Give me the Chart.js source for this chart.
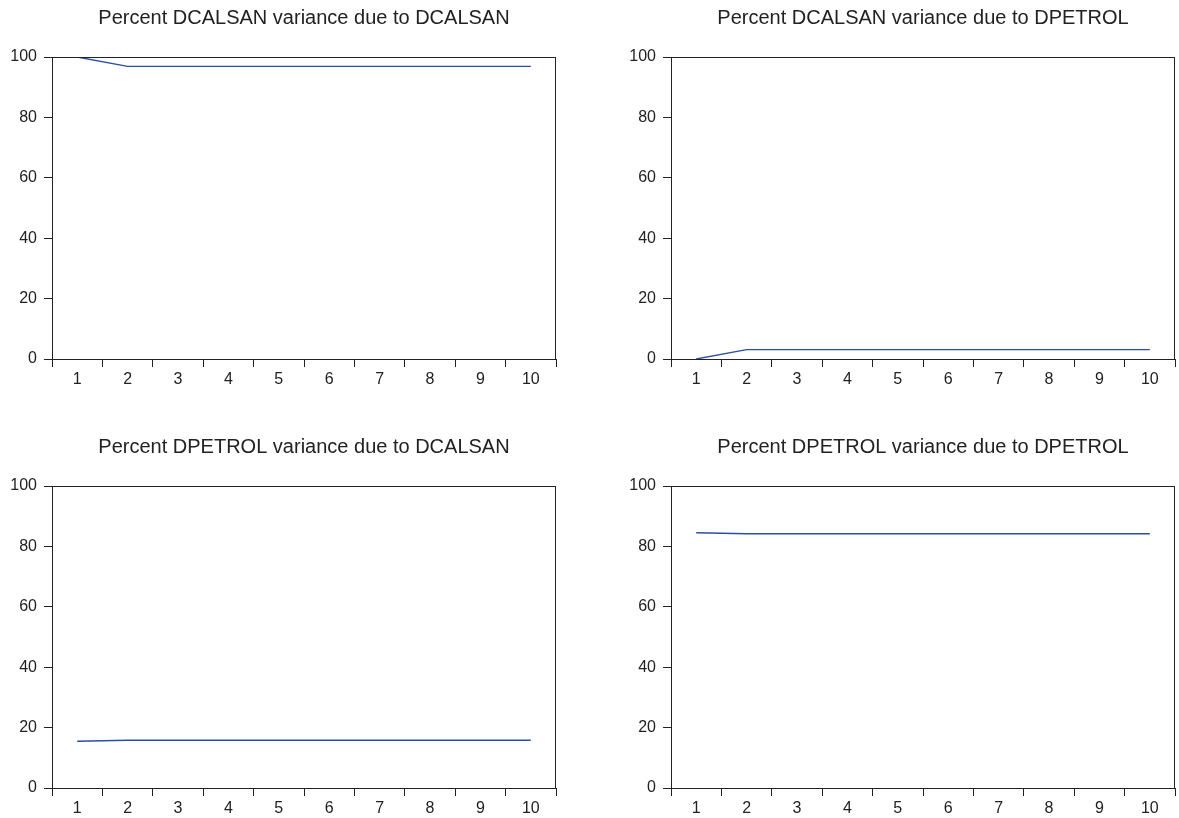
<!DOCTYPE html>
<html>
<head>
<meta charset="utf-8">
<script src="https://cdn.jsdelivr.net/npm/chart.js@4.4.0/dist/chart.umd.min.js"></script>
<style>
  html, body { margin: 0; padding: 0; background: #fff; overflow: hidden; }
  body { width: 1179px; height: 818px; position: relative; }
  .panel { position: absolute; width: 560px; height: 400px; }
</style>
</head>
<body>
<div class="panel" style="left:0;top:0"><canvas id="c1"></canvas></div>
<div class="panel" style="left:619px;top:0"><canvas id="c2"></canvas></div>
<div class="panel" style="left:0;top:429px"><canvas id="c3"></canvas></div>
<div class="panel" style="left:619px;top:429px"><canvas id="c4"></canvas></div>
<script>
// periods on the x axis
const periods = ['1', '2', '3', '4', '5', '6', '7', '8', '9', '10'];

// variance decomposition series (percent)
const calsanByCalsan = [100, 96.9, 96.9, 96.9, 96.9, 96.9, 96.9, 96.9, 96.9, 96.9];
const calsanByPetrol = [0, 3.1, 3.1, 3.1, 3.1, 3.1, 3.1, 3.1, 3.1, 3.1];
const petrolByCalsan = [15.5, 15.8, 15.8, 15.8, 15.8, 15.8, 15.8, 15.8, 15.8, 15.8];
const petrolByPetrol = [84.5, 84.2, 84.2, 84.2, 84.2, 84.2, 84.2, 84.2, 84.2, 84.2];

const titles = [
    'Percent DCALSAN variance due to DCALSAN',
    'Percent DCALSAN variance due to DPETROL',
    'Percent DPETROL variance due to DCALSAN',
    'Percent DPETROL variance due to DPETROL'
];

const lineColor = '#2B4EA0';
const axisColor = '#222222';
const font = { family: 'Liberation Sans, Arial, sans-serif', size: 16 };

// draw the full box around the plot area
const frameBox = {
    id: 'frameBox',
    afterDraw(chart) {
        const { ctx, chartArea } = chart;
        ctx.save();
        ctx.strokeStyle = axisColor;
        ctx.lineWidth = 1;
        ctx.strokeRect(chartArea.left + 0.5, chartArea.top + 0.5,
            chartArea.right - chartArea.left - 1, chartArea.bottom - chartArea.top);
        ctx.restore();
    }
};

function makePanel(id, title, values) {
    const ctx = document.getElementById(id);
    return new Chart(ctx, {
        type: 'line',
        data: {
            labels: periods,
            datasets: [{
                data: values,
                borderColor: lineColor,
                borderWidth: 1.4,
                pointRadius: 0,
                tension: 0,
                fill: false
            }]
        },
        options: {
            responsive: true,
            maintainAspectRatio: false,
            animation: false,
            layout: { padding: { left: 0, right: 4, top: 0, bottom: 0 } },
            plugins: {
                legend: { display: false },
                tooltip: { enabled: false },
                title: {
                    display: true,
                    text: title,
                    fullSize: false,
                    color: '#222',
                    font: { family: font.family, size: 20, weight: 'normal' },
                    padding: { top: 6, bottom: 27 }
                }
            },
            scales: {
                x: {
                    offset: true,
                    grid: {
                        offset: true,
                        drawOnChartArea: false,
                        drawTicks: true,
                        tickLength: 8,
                        color: axisColor
                    },
                    border: { color: axisColor },
                    ticks: { color: '#222', font: font, padding: 3, maxRotation: 0 },
                    afterFit(scale) { scale.height = 41; }
                },
                y: {
                    min: 0,
                    max: 100,
                    ticks: { stepSize: 20, color: '#222', font: font, padding: 7 },
                    grid: {
                        drawOnChartArea: false,
                        drawTicks: true,
                        tickLength: 8,
                        color: axisColor
                    },
                    border: { color: axisColor },
                    afterFit(scale) { scale.width = 52; }
                }
            }
        },
        plugins: [frameBox]
    });
}

makePanel('c1', titles[0], calsanByCalsan);
makePanel('c2', titles[1], calsanByPetrol);
makePanel('c3', titles[2], petrolByCalsan);
makePanel('c4', titles[3], petrolByPetrol);
</script>
</body>
</html>
